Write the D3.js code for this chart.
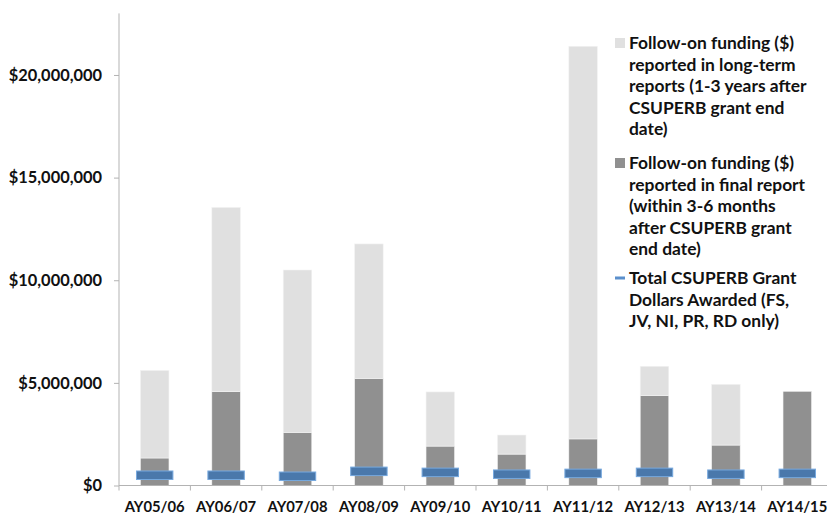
<!DOCTYPE html>
<html>
<head>
<meta charset="utf-8">
<script src="https://cdn.jsdelivr.net/npm/d3@7"></script>
<style>
  html, body { margin: 0; padding: 0; background: #ffffff; }
  svg { display: block; }
  text { font-family: Lato, "Open Sans", sans-serif; font-weight: 700; fill: #111; }
</style>
</head>
<body>
<svg id="chart" width="827" height="513"></svg>
<script>
// Academic years
const categories = ["AY05/06", "AY06/07", "AY07/08", "AY08/09", "AY09/10",
                    "AY10/11", "AY11/12", "AY12/13", "AY13/14", "AY14/15"];

// Follow-on funding reported in final report (3-6 months after grant end), $
const finalReport = [1340000, 4570000, 2590000, 5220000, 1920000,
                     1530000, 2270000, 4380000, 1970000, 4590000];

// Additional follow-on funding reported in long-term reports (1-3 years after), $
const longTerm = [4270000, 8980000, 7910000, 6550000, 2640000,
                  930000, 19130000, 1430000, 2960000, 0];

// Total CSUPERB grant dollars awarded (FS, JV, NI, PR, RD only), $
const grantTotal = [500000, 500000, 450000, 690000, 640000,
                    550000, 590000, 640000, 550000, 590000];

// Value axis ticks
const yTicks = [0, 5000000, 10000000, 15000000, 20000000];

const legendItems = [
  { type: "rect", color: "#e0e0e0",
    lines: ["Follow-on funding ($)", "reported in long-term", "reports (1-3 years after", "CSUPERB grant end", "date)"] },
  { type: "rect", color: "#909090",
    lines: ["Follow-on funding ($)", "reported in final report", "(within 3-6 months", "after CSUPERB grant", "end date)"] },
  { type: "line", color: "#4a78ab",
    lines: ["Total CSUPERB Grant", "Dollars Awarded (FS,", "JV, NI, PR, RD only)"] }
];

const svg = d3.select("#chart");
const plot = { left: 119, right: 833, top: 13.4, bottom: 485.5 };

const x = d3.scaleBand()
  .domain(categories)
  .range([plot.left, plot.right])
  .paddingInner(0.6)
  .paddingOuter(0.3);

const y = d3.scaleLinear()
  .domain([0, 23000000])
  .range([plot.bottom, plot.top]);

const rows = categories.map((c, i) => ({
  cat: c, finalReport: finalReport[i], longTerm: longTerm[i], grant: grantTotal[i]
}));

const stack = d3.stack().keys(["finalReport", "longTerm"]);
const layers = stack(rows);
const colors = { finalReport: "#909090", longTerm: "#e0e0e0" };

// stacked bars
svg.append("g").selectAll("g")
  .data(layers)
  .join("g")
  .attr("fill", d => colors[d.key])
  .selectAll("rect")
  .data(d => d)
  .join("rect")
  .attr("x", d => x(d.data.cat))
  .attr("width", x.bandwidth())
  .attr("y", d => y(d[1]))
  .attr("height", d => Math.max(0, y(d[0]) - y(d[1])))
  .attr("stroke", "#f4f4f4")
  .attr("stroke-width", 0.6);

// Y axis
const yAxis = d3.axisLeft(y)
  .tickValues(yTicks)
  .tickSize(5)
  .tickPadding(12)
  .tickFormat(d => "$" + d3.format(",")(d));

const yG = svg.append("g")
  .attr("transform", `translate(${plot.left},0)`)
  .call(yAxis);
yG.select(".domain").remove();
yG.append("line")
  .attr("x1", 0).attr("x2", 0)
  .attr("y1", plot.top).attr("y2", plot.bottom)
  .attr("stroke", "#b3b3b3");
yG.selectAll(".tick line").attr("stroke", "#b3b3b3");
yG.selectAll(".tick text")
  .attr("font-size", 16.4)
  .attr("font-family", "Lato, sans-serif")
  .attr("font-weight", 700)
  .attr("fill", "#111");

// X axis
const xG = svg.append("g").attr("transform", `translate(0,${plot.bottom})`);
xG.append("line")
  .attr("x1", plot.left).attr("x2", plot.right)
  .attr("stroke", "#b3b3b3");
const boundaries = d3.range(categories.length + 1).map(i => x.range()[0] + i * x.step());
xG.selectAll(".bt")
  .data(boundaries)
  .join("line")
  .attr("x1", d => d).attr("x2", d => d)
  .attr("y1", 0).attr("y2", 5)
  .attr("stroke", "#b3b3b3");
xG.selectAll(".xl")
  .data(categories)
  .join("text")
  .attr("x", d => x(d) + x.bandwidth() / 2)
  .attr("y", 26)
  .attr("text-anchor", "middle")
  .attr("font-size", 14.8)
  .text(d => d);

// Grant total markers (dash markers)
const markW = x.step() * 0.51, markH = 8.5;
svg.append("g").selectAll("rect")
  .data(rows)
  .join("rect")
  .attr("x", d => x(d.cat) + x.bandwidth() / 2 - markW / 2)
  .attr("y", d => y(d.grant) - markH / 2)
  .attr("width", markW)
  .attr("height", markH)
  .attr("fill", "#4a78ab")
  .attr("stroke", "#76a8de")
  .attr("stroke-width", 1);

// Legend
const lg = svg.append("g").attr("transform", "translate(614,0)");
const entryTop = [43, 163, 278];
const lineH = 21.5;
legendItems.forEach((item, k) => {
  const g = lg.append("g");
  if (item.type === "rect") {
    g.append("rect")
      .attr("x", 1).attr("y", entryTop[k] - 5)
      .attr("width", 10).attr("height", 10)
      .attr("fill", item.color);
  } else {
    g.append("rect")
      .attr("x", 1).attr("y", entryTop[k] - 1.5)
      .attr("width", 10).attr("height", 3)
      .attr("fill", "#5b8fcc");
  }
  g.selectAll("text")
    .data(item.lines)
    .join("text")
    .attr("x", 15)
    .attr("y", (d, i) => entryTop[k] + i * lineH)
    .attr("dy", "0.36em")
    .attr("font-size", 17.4)
    .text(d => d);
});
</script>
</body>
</html>
